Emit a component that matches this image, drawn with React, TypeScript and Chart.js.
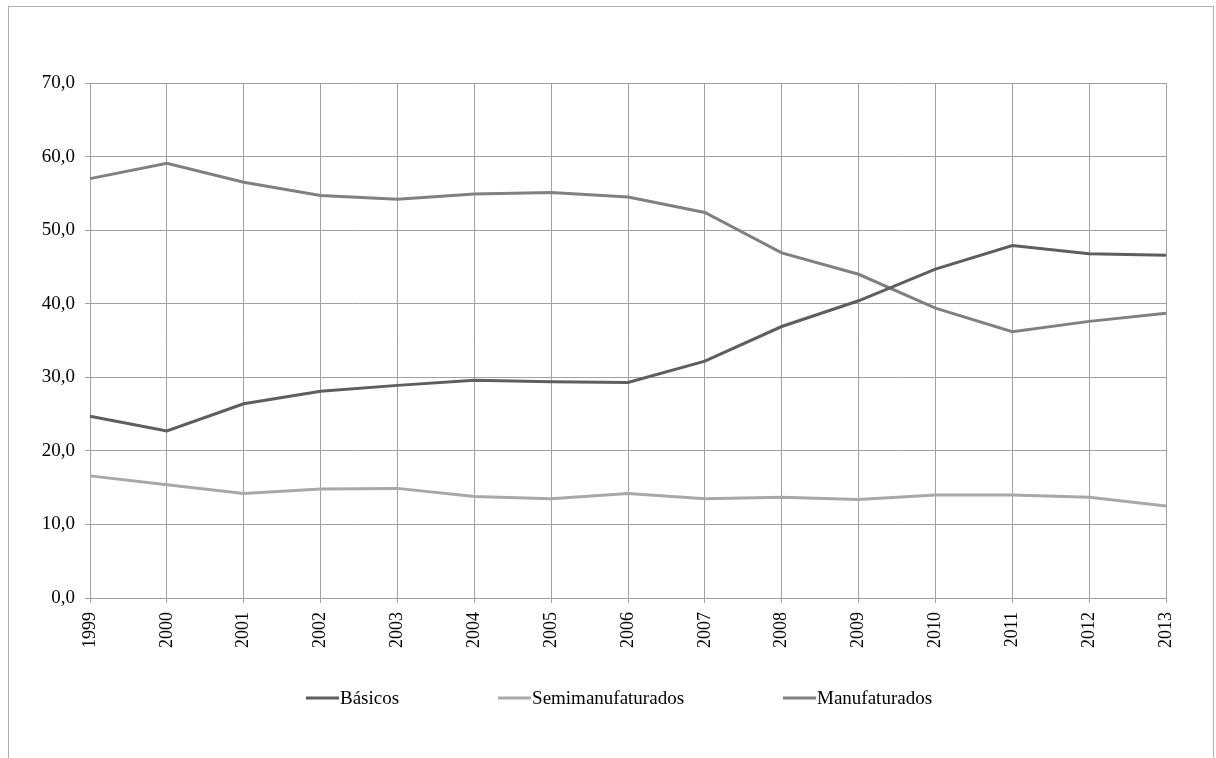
import React, { useEffect, useRef } from "react";
import { Chart, registerables } from "chart.js";

Chart.register(...registerables);

const years = ["1999", "2000", "2001", "2002", "2003", "2004", "2005", "2006", "2007", "2008", "2009", "2010", "2011", "2012", "2013"];
const basicos = [24.7, 22.7, 26.4, 28.1, 28.9, 29.6, 29.4, 29.3, 32.2, 36.9, 40.4, 44.7, 47.9, 46.8, 46.6];
const semimanufaturados = [16.6, 15.4, 14.2, 14.8, 14.9, 13.8, 13.5, 14.2, 13.5, 13.7, 13.4, 14.0, 14.0, 13.7, 12.5];
const manufaturados = [57.0, 59.1, 56.5, 54.7, 54.2, 54.9, 55.1, 54.5, 52.4, 46.9, 44.0, 39.4, 36.2, 37.6, 38.7];

const seriesNames = ["Básicos", "Semimanufaturados", "Manufaturados"];
const seriesColors = ["#5e5e5e", "#a8a8a8", "#808080"];

const FONT = "'Liberation Serif', 'Times New Roman', serif";

// Legend drawn under the axis: short line swatch followed directly by the label.
const bottomLegend = {
  id: "bottomLegend",
  afterDraw(chart: any) {
    const ctx = chart.ctx as CanvasRenderingContext2D;
    const swatch = 33;
    const textGap = 1;
    const itemGap = 99;
    ctx.save();
    ctx.font = `19px ${FONT}`;
    const items = chart.data.datasets.map((ds: any) => ({
      label: ds.label as string,
      color: ds.borderColor as string,
      w: ctx.measureText(ds.label).width,
    }));
    const total =
      items.reduce((s: number, it: any) => s + swatch + textGap + it.w, 0) + itemGap * (items.length - 1);
    let x = chart.width / 2 + 8 - total / 2;
    const y = 691;
    ctx.textBaseline = "middle";
    ctx.textAlign = "left";
    for (const it of items) {
      ctx.strokeStyle = it.color;
      ctx.lineWidth = 3;
      ctx.beginPath();
      ctx.moveTo(x, y);
      ctx.lineTo(x + swatch, y);
      ctx.stroke();
      ctx.fillStyle = "#000";
      ctx.fillText(it.label, x + swatch + textGap, y + 1);
      x += swatch + textGap + it.w + itemGap;
    }
    ctx.restore();
  },
};

export default function App() {
  const canvasRef = useRef<HTMLCanvasElement | null>(null);

  useEffect(() => {
    if (!canvasRef.current) return;
    const series = [basicos, semimanufaturados, manufaturados];
    const chart = new Chart(canvasRef.current, {
      type: "line",
      data: {
        labels: years,
        datasets: series.map((values, i) => ({
          label: seriesNames[i],
          data: values,
          borderColor: seriesColors[i],
          backgroundColor: seriesColors[i],
          borderWidth: 3,
          pointRadius: 0,
          pointHoverRadius: 0,
          tension: 0,
          fill: false,
        })),
      },
      options: {
        animation: false,
        responsive: false,
        maintainAspectRatio: false,
        layout: { padding: { top: 76, right: 47, left: 0, bottom: 0 } },
        plugins: {
          legend: { display: false },
          tooltip: { enabled: false },
          title: { display: false },
        },
        scales: {
          x: {
            grid: {
              color: "#a0a0a0",
              lineWidth: 1,
              drawTicks: true,
              tickLength: 5,
              offset: false,
            },
            border: { color: "#a0a0a0", width: 1 },
            ticks: {
              color: "#000",
              font: { family: FONT, size: 18 },
              minRotation: 90,
              maxRotation: 90,
              autoSkip: false,
              padding: 9,
            },
            afterFit: (scale: any) => {
              scale.height = 160;
            },
          },
          y: {
            min: 0,
            max: 70,
            grid: {
              color: "#a0a0a0",
              lineWidth: 1,
              drawTicks: true,
              tickLength: 5,
            },
            border: { color: "#a0a0a0", width: 1 },
            ticks: {
              stepSize: 10,
              color: "#000",
              font: { family: FONT, size: 19 },
              padding: 10,
              callback: (v: any) => Number(v).toFixed(1).replace(".", ","),
            },
            afterFit: (scale: any) => {
              scale.width = 81;
            },
          },
        },
      },
      plugins: [bottomLegend],
    });
    return () => chart.destroy();
  }, []);

  return (
    <div
      style={{
        position: "absolute",
        left: 8,
        top: 6,
        width: 1204,
        height: 760,
        border: "1px solid #b0b0b0",
        background: "#fff",
        overflow: "hidden",
      }}
    >
      <canvas ref={canvasRef} width={1204} height={751} style={{ display: "block" }} />
    </div>
  );
}
